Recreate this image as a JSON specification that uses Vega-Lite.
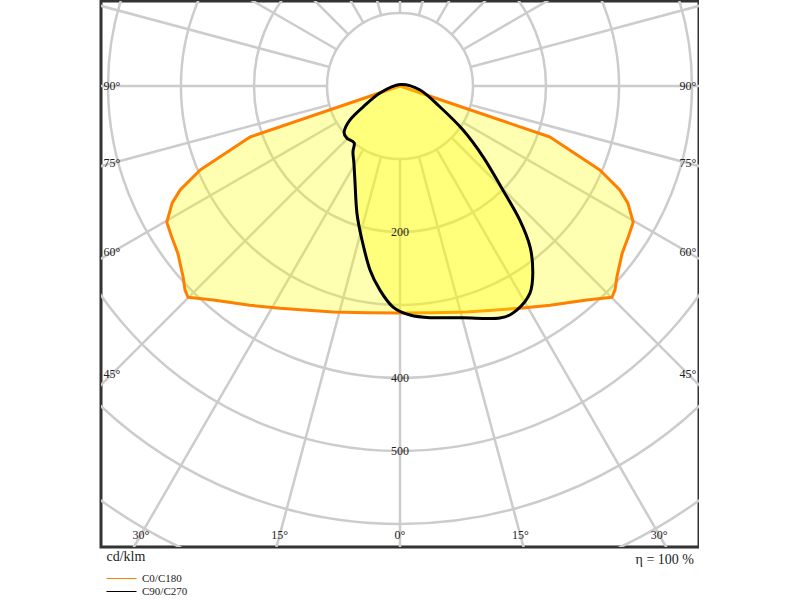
{
  "$schema": "https://vega.github.io/schema/vega-lite/v6.json",
  "width": 598,
  "height": 546,
  "padding": {"left": 101, "top": 1, "right": 0, "bottom": 0},
  "background": "white",
  "config": {
    "view": {"stroke": "#333333", "strokeWidth": 3},
    "font": "Liberation Serif",
    "axisX": {"labels": false, "ticks": false, "domain": false, "grid": false, "titleAnchor": "start", "titleAlign": "left", "titleX": 5, "titleFont": "Liberation Serif", "titleFontSize": 14, "titleFontWeight": "normal", "titleColor": "#222222", "titlePadding": 2}
  },
  "title": {"text": "η = 100 %", "orient": "bottom", "anchor": "end", "frame": "group", "dx": -5, "dy": -48, "font": "Liberation Serif", "fontSize": 14, "fontWeight": "normal", "color": "#222222"},
  "datasets": {
    "circles": [{"r": 100}, {"r": 200}, {"r": 300}, {"r": 400}, {"r": 500}, {"r": 600}, {"r": 700}, {"r": 800}],
    "rays": [{"g": 0}, {"g": 15}, {"g": 30}, {"g": 45}, {"g": 60}, {"g": 75}, {"g": 90}, {"g": 105}, {"g": 120}, {"g": 135}, {"g": 150}, {"g": 165}, {"g": 180}, {"g": 195}, {"g": 210}, {"g": 225}, {"g": 240}, {"g": 255}, {"g": 270}, {"g": 285}, {"g": 300}, {"g": 315}, {"g": 330}, {"g": 345}],
    "curves": [
      {"c": "C0/C180", "g": -180, "i": 0}, {"c": "C0/C180", "g": -71.2, "i": 217}, {"c": "C0/C180", "g": -67.2, "i": 297}, {"c": "C0/C180", "g": -64.7, "i": 333}, {"c": "C0/C180", "g": -62.8, "i": 351}, {"c": "C0/C180", "g": -59.7, "i": 370}, {"c": "C0/C180", "g": -56.5, "i": 375}, {"c": "C0/C180", "g": -53, "i": 381}, {"c": "C0/C180", "g": -48.6, "i": 396}, {"c": "C0/C180", "g": -46.5, "i": 406}, {"c": "C0/C180", "g": -45.1, "i": 410}, {"c": "C0/C180", "g": -41.1, "i": 389}, {"c": "C0/C180", "g": -34.4, "i": 364}, {"c": "C0/C180", "g": -28.4, "i": 346}, {"c": "C0/C180", "g": -16.5, "i": 323}, {"c": "C0/C180", "g": -8.3, "i": 314}, {"c": "C0/C180", "g": 0, "i": 311}, {"c": "C0/C180", "g": 8.3, "i": 314}, {"c": "C0/C180", "g": 16.5, "i": 323}, {"c": "C0/C180", "g": 28.4, "i": 346}, {"c": "C0/C180", "g": 34.4, "i": 364}, {"c": "C0/C180", "g": 41.1, "i": 389}, {"c": "C0/C180", "g": 45.1, "i": 410}, {"c": "C0/C180", "g": 46.5, "i": 406}, {"c": "C0/C180", "g": 48.6, "i": 396}, {"c": "C0/C180", "g": 53, "i": 381}, {"c": "C0/C180", "g": 56.5, "i": 375}, {"c": "C0/C180", "g": 59.7, "i": 370}, {"c": "C0/C180", "g": 62.8, "i": 351}, {"c": "C0/C180", "g": 64.7, "i": 333}, {"c": "C0/C180", "g": 67.2, "i": 297}, {"c": "C0/C180", "g": 71.2, "i": 217}, {"c": "C0/C180", "g": 180, "i": 0},
      {"c": "C90/C270", "g": -180, "i": 2}, {"c": "C90/C270", "g": -70.7, "i": 29}, {"c": "C90/C270", "g": -60.4, "i": 58}, {"c": "C90/C270", "g": -55.8, "i": 83}, {"c": "C90/C270", "g": -50.6, "i": 99}, {"c": "C90/C270", "g": -45.5, "i": 102}, {"c": "C90/C270", "g": -38.9, "i": 100}, {"c": "C90/C270", "g": -35.5, "i": 111}, {"c": "C90/C270", "g": -30.9, "i": 123}, {"c": "C90/C270", "g": -25.6, "i": 143}, {"c": "C90/C270", "g": -18.7, "i": 184}, {"c": "C90/C270", "g": -13.9, "i": 217}, {"c": "C90/C270", "g": -9.3, "i": 255}, {"c": "C90/C270", "g": -5.6, "i": 281}, {"c": "C90/C270", "g": -1.8, "i": 303}, {"c": "C90/C270", "g": 2.5, "i": 314}, {"c": "C90/C270", "g": 7.4, "i": 320}, {"c": "C90/C270", "g": 15.2, "i": 329}, {"c": "C90/C270", "g": 23.3, "i": 346}, {"c": "C90/C270", "g": 27.6, "i": 346}, {"c": "C90/C270", "g": 32.1, "i": 335}, {"c": "C90/C270", "g": 35.4, "i": 314}, {"c": "C90/C270", "g": 38.9, "i": 284}, {"c": "C90/C270", "g": 41.8, "i": 246}, {"c": "C90/C270", "g": 44.7, "i": 200}, {"c": "C90/C270", "g": 49.5, "i": 150}, {"c": "C90/C270", "g": 55.1, "i": 105}, {"c": "C90/C270", "g": 62.3, "i": 62}, {"c": "C90/C270", "g": 78.7, "i": 28}
    ],
    "ringLabels": [{"r": 200, "t": "200"}, {"r": 400, "t": "400"}, {"r": 500, "t": "500"}],
    "angleLabels": [{"g": -90, "t": "90°"}, {"g": -75, "t": "75°"}, {"g": -60, "t": "60°"}, {"g": -45, "t": "45°"}, {"g": -30, "t": "30°"}, {"g": -15, "t": "15°"}, {"g": 0, "t": "0°"}, {"g": 15, "t": "15°"}, {"g": 30, "t": "30°"}, {"g": 45, "t": "45°"}, {"g": 60, "t": "60°"}, {"g": 75, "t": "75°"}, {"g": 90, "t": "90°"}]
  },
  "layer": [
    {
      "data": {"name": "circles"},
      "mark": {"type": "arc", "theta": 0, "theta2": 6.2832, "fill": null, "filled": false, "stroke": "#cccccc", "strokeWidth": 2.5, "clip": true},
      "encoding": {
        "x": {"datum": 0, "type": "quantitative", "scale": {"domain": [-409.6, 409.6], "nice": false, "zero": false}, "axis": {"title": "cd/klm"}},
        "y": {"datum": 0, "type": "quantitative", "scale": {"domain": [-631.5, 116.4], "nice": false, "zero": false}, "axis": null},
        "radius": {"field": "r", "type": "quantitative", "stack": null, "scale": {"type": "linear", "domain": [0, 1000], "range": [0, 730], "zero": true}}
      }
    },
    {
      "data": {"name": "rays"},
      "transform": [
        {"calculate": "100*sin(datum.g*PI/180)", "as": "x"},
        {"calculate": "-100*cos(datum.g*PI/180)", "as": "y"},
        {"calculate": "1200*sin(datum.g*PI/180)", "as": "x2"},
        {"calculate": "-1200*cos(datum.g*PI/180)", "as": "y2"}
      ],
      "mark": {"type": "rule", "stroke": "#cccccc", "strokeWidth": 2.5, "clip": true},
      "encoding": {
        "x": {"field": "x", "type": "quantitative", "axis": {"title": "cd/klm"}},
        "y": {"field": "y", "type": "quantitative", "axis": null},
        "x2": {"field": "x2"},
        "y2": {"field": "y2"}
      }
    },
    {
      "data": {"name": "curves"},
      "transform": [
        {"filter": "datum.c === 'C0/C180'"},
        {"calculate": "datum.i*sin(datum.g*PI/180)", "as": "x"},
        {"calculate": "-datum.i*cos(datum.g*PI/180)", "as": "y"}
      ],
      "mark": {"type": "line", "interpolate": "linear-closed", "fill": "#ffff00", "fillOpacity": 0.3, "strokeWidth": 3, "strokeJoin": "round", "clip": true},
      "encoding": {
        "x": {"field": "x", "type": "quantitative", "axis": {"title": "cd/klm"}},
        "y": {"field": "y", "type": "quantitative", "axis": null},
        "order": {"field": "g", "type": "quantitative"},
        "stroke": {"field": "c", "type": "nominal", "scale": {"domain": ["C0/C180", "C90/C270"], "range": ["#ff8000", "#000000"]},
          "legend": {"orient": "none", "legendX": 5, "legendY": 572, "title": null, "symbolType": "M-1,0H5", "symbolSize": 100, "symbolStrokeWidth": 1, "labelFont": "Liberation Serif", "labelFontSize": 11, "labelColor": "#222222", "labelOffset": 25, "rowPadding": 1}}
      }
    },
    {
      "data": {"name": "curves"},
      "transform": [
        {"filter": "datum.c === 'C90/C270'"},
        {"calculate": "datum.i*sin(datum.g*PI/180)", "as": "x"},
        {"calculate": "-datum.i*cos(datum.g*PI/180)", "as": "y"}
      ],
      "mark": {"type": "line", "interpolate": "cardinal-closed", "fill": "#ffff00", "fillOpacity": 0.3, "strokeWidth": 3, "strokeJoin": "round", "clip": true},
      "encoding": {
        "x": {"field": "x", "type": "quantitative", "axis": {"title": "cd/klm"}},
        "y": {"field": "y", "type": "quantitative", "axis": null},
        "order": {"field": "g", "type": "quantitative"},
        "stroke": {"field": "c", "type": "nominal"}
      }
    },
    {
      "data": {"name": "ringLabels"},
      "transform": [{"calculate": "-datum.r", "as": "y"}],
      "mark": {"type": "text", "font": "Liberation Serif", "fontSize": 12, "color": "#222222", "align": "center", "baseline": "middle"},
      "encoding": {
        "x": {"datum": 0, "type": "quantitative", "axis": {"title": "cd/klm"}},
        "y": {"field": "y", "type": "quantitative", "axis": null},
        "text": {"field": "t"}
      }
    },
    {
      "data": {"name": "angleLabels"},
      "transform": [
        {"calculate": "min(394.5/abs(sin(datum.g*PI/180)), 615/abs(cos(datum.g*PI/180)))", "as": "r"},
        {"calculate": "datum.r*sin(datum.g*PI/180)", "as": "x"},
        {"calculate": "-datum.r*cos(datum.g*PI/180)", "as": "y"}
      ],
      "mark": {"type": "text", "font": "Liberation Serif", "fontSize": 12, "color": "#222222", "align": "center", "baseline": "middle"},
      "encoding": {
        "x": {"field": "x", "type": "quantitative", "axis": {"title": "cd/klm"}},
        "y": {"field": "y", "type": "quantitative", "axis": null},
        "text": {"field": "t"}
      }
    }
  ]
}
